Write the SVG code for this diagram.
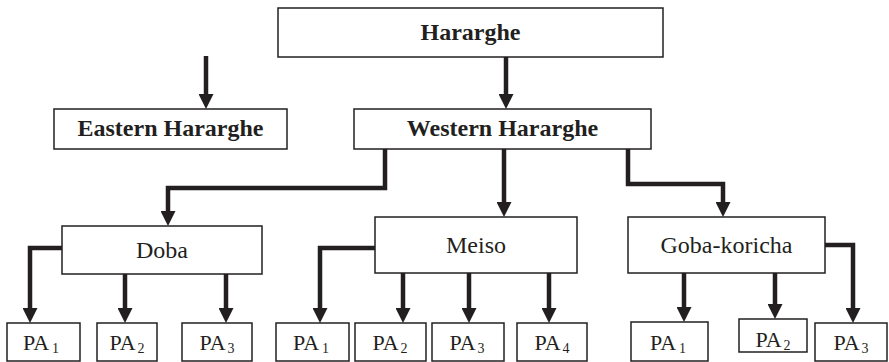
<svg xmlns="http://www.w3.org/2000/svg" width="889" height="362" viewBox="0 0 889 362">
<style>
.box{fill:#fff;stroke:#231f20;stroke-width:1.5}
.b{font-family:"Liberation Serif","Times New Roman",serif;font-weight:bold;font-size:24px;fill:#231f20;text-anchor:middle}
.r{font-family:"Liberation Serif","Times New Roman",serif;font-size:24px;fill:#231f20;text-anchor:middle}
.pa{font-family:"Liberation Serif","Times New Roman",serif;font-size:22px;fill:#231f20;text-anchor:middle}
.sub{font-size:14px}
.c{fill:none;stroke:#231f20;stroke-width:4.5;marker-end:url(#ah)}
</style>
<defs>
<marker id="ah" markerUnits="userSpaceOnUse" markerWidth="15" markerHeight="15" viewBox="0 0 15 15" refX="9" refY="7.5" orient="auto">
<path d="M0,0 L15,7.5 L0,15 z" fill="#231f20"/>
</marker>
</defs>
<g id="connectors">
<path class="c" d="M206,56 V103"/>
<path class="c" d="M506,57 V103"/>
<path class="c" d="M385,149 V188 H168 V220"/>
<path class="c" d="M504,149 V211"/>
<path class="c" d="M628,149 V184 H723 V211"/>
<path class="c" d="M62,248 H30 V317"/>
<path class="c" d="M125,274 V317"/>
<path class="c" d="M226,274 V317"/>
<path class="c" d="M375,248 H320 V317"/>
<path class="c" d="M403,273 V317"/>
<path class="c" d="M469,273 V317"/>
<path class="c" d="M549,273 V317"/>
<path class="c" d="M684,273 V316"/>
<path class="c" d="M775,273 V313"/>
<path class="c" d="M825,245 H853 V317"/>
</g>
<g id="hararghe"><rect class="box" x="278" y="8" width="385" height="49"/><text class="b" x="470.5" y="40">Hararghe</text></g>
<g id="eastern"><rect class="box" x="54" y="109" width="233" height="40"/><text class="b" x="170.5" y="136">Eastern Hararghe</text></g>
<g id="western"><rect class="box" x="354" y="109" width="297" height="40"/><text class="b" x="502.5" y="136">Western Hararghe</text></g>
<g id="doba"><rect class="box" x="62" y="226" width="200" height="48"/><text class="r" x="162" y="258">Doba</text></g>
<g id="meiso"><rect class="box" x="375" y="217" width="202" height="56"/><text class="r" x="476" y="253">Meiso</text></g>
<g id="goba"><rect class="box" x="628" y="217" width="197" height="56"/><text class="r" x="726.5" y="253">Goba-koricha</text></g>
<g id="doba-pa1"><rect class="box" x="7" y="323" width="73" height="38"/><text class="pa" x="41" y="350">PA<tspan class="sub" dx="3" dy="3">1</tspan></text></g>
<g id="doba-pa2"><rect class="box" x="97" y="323" width="60" height="38"/><text class="pa" x="127" y="350">PA<tspan class="sub" dx="2" dy="3">2</tspan></text></g>
<g id="doba-pa3"><rect class="box" x="182" y="323" width="70" height="38"/><text class="pa" x="217" y="350">PA<tspan class="sub" dx="2" dy="3">3</tspan></text></g>
<g id="meiso-pa1"><rect class="box" x="276" y="323" width="73" height="38"/><text class="pa" x="311" y="350">PA<tspan class="sub" dx="3" dy="3">1</tspan></text></g>
<g id="meiso-pa2"><rect class="box" x="355" y="323" width="71" height="38"/><text class="pa" x="390" y="350">PA<tspan class="sub" dx="2" dy="3">2</tspan></text></g>
<g id="meiso-pa3"><rect class="box" x="432" y="323" width="72" height="38"/><text class="pa" x="467" y="350">PA<tspan class="sub" dx="2" dy="3">3</tspan></text></g>
<g id="meiso-pa4"><rect class="box" x="517" y="323" width="70" height="38"/><text class="pa" x="552" y="350">PA<tspan class="sub" dx="2" dy="3">4</tspan></text></g>
<g id="goba-pa1"><rect class="box" x="631" y="322" width="77" height="39"/><text class="pa" x="668" y="350">PA<tspan class="sub" dx="3" dy="3">1</tspan></text></g>
<g id="goba-pa2"><rect class="box" x="739" y="319" width="68" height="33"/><text class="pa" x="773" y="347">PA<tspan class="sub" dx="2" dy="3">2</tspan></text></g>
<g id="goba-pa3"><rect class="box" x="815" y="323" width="72" height="38"/><text class="pa" x="851" y="350">PA<tspan class="sub" dx="2" dy="3">3</tspan></text></g>
</svg>
